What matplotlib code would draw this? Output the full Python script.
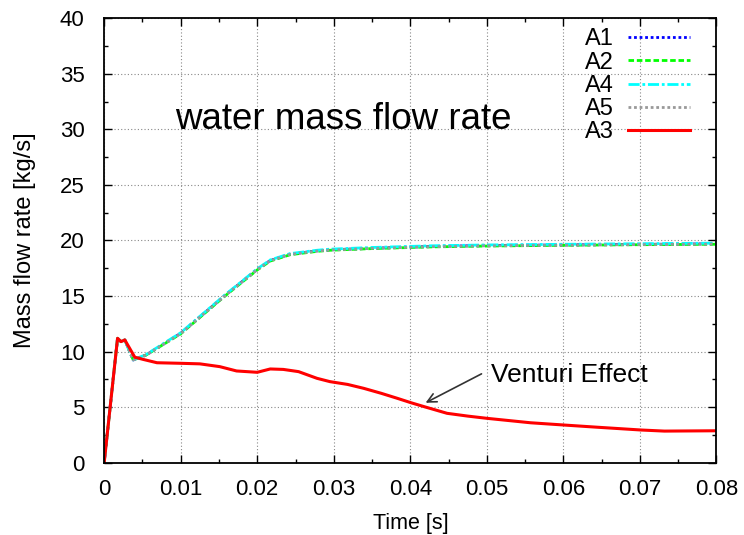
import numpy as np
import matplotlib
matplotlib.use("Agg")
import matplotlib.pyplot as plt
from matplotlib.ticker import MultipleLocator, FuncFormatter

# A3 (red) - drops after the contraction
t_a3 = [0.0, 0.00175, 0.0022, 0.0027, 0.004, 0.0051, 0.0069, 0.01, 0.0125,
        0.0151, 0.0173, 0.02, 0.0217, 0.0234, 0.0254, 0.0278, 0.0295, 0.0318, 0.0339,
        0.0362, 0.0383, 0.0401, 0.0418, 0.0448, 0.0475, 0.05, 0.0557, 0.06, 0.0644,
        0.0701, 0.0732, 0.08]
m_a3 = [0.0, 11.2, 10.9, 11.05, 9.5, 9.3, 9.0, 8.95, 8.9,
        8.65, 8.26, 8.14, 8.44, 8.4, 8.2, 7.6, 7.3, 7.05, 6.7,
        6.25, 5.8, 5.4, 5.05, 4.45, 4.2, 4.0, 3.6, 3.4, 3.2,
        2.95, 2.85, 2.88]

# A1, A2, A4, A5 - nearly identical
t_up = [0.0, 0.00175, 0.0022, 0.0027, 0.0038, 0.0055, 0.01, 0.0156, 0.02,
        0.0217, 0.0243, 0.0278, 0.0295, 0.035, 0.0426, 0.05, 0.0605, 0.07, 0.08]
m_a1 = [0.0, 11.2, 10.9, 11.05, 9.25, 9.7, 11.65, 14.95, 17.4,
        18.2, 18.77, 19.07, 19.16, 19.3, 19.46, 19.55, 19.6, 19.65, 19.7]
m_a2 = [0.0, 11.2, 10.9, 11.05, 9.25, 9.7, 11.6, 14.9, 17.35,
        18.15, 18.72, 19.02, 19.12, 19.27, 19.42, 19.5, 19.57, 19.62, 19.66]
m_a4 = [0.0, 11.2, 10.9, 11.05, 9.25, 9.75, 11.7, 15.0, 17.45,
        18.25, 18.82, 19.12, 19.22, 19.37, 19.52, 19.6, 19.66, 19.71, 19.76]
m_a5 = [0.0, 11.2, 10.9, 11.05, 9.25, 9.7, 11.62, 14.92, 17.38,
        18.18, 18.75, 19.05, 19.14, 19.29, 19.44, 19.52, 19.58, 19.63, 19.68]

plt.rcParams['font.family'] = ['Liberation Sans', 'DejaVu Sans']

fig = plt.figure(figsize=(7.44, 5.35), dpi=100)
ax = fig.add_axes([0.140, 0.135, 0.823, 0.831])

ax.plot(t_up, m_a1, color='#0000ff', linestyle=(0, (1, 1)), lw=2, label='A1')
ax.plot(t_up, m_a2, color='#00ff00', linestyle=(0, (2, 1)), lw=2, label='A2')
ax.plot(t_up, m_a4, color='#00ffff', linestyle=(0, (4, 1, 1, 1)), lw=2, label='A4')
ax.plot(t_up, m_a5, color='#999999', linestyle=(0, (1, 1)), lw=2, label='A5')
ax.plot(t_a3, m_a3, color='#ff0000', linestyle='-', lw=2.2, label='A3')

ax.set_xlim(0, 0.08)
ax.set_ylim(0, 40)
ax.xaxis.set_major_locator(MultipleLocator(0.01))
ax.xaxis.set_minor_locator(MultipleLocator(0.005))
ax.yaxis.set_major_locator(MultipleLocator(5))
ax.yaxis.set_minor_locator(MultipleLocator(2.5))
ax.xaxis.set_major_formatter(FuncFormatter(lambda v, p: '0' if v == 0 else '%g' % round(v, 3)))
ax.tick_params(which='both', direction='in', top=True, right=True, labelsize=16)
ax.tick_params(axis='x', pad=12)
ax.tick_params(axis='y', pad=14)
ax.tick_params(which='major', length=6, width=1)
ax.tick_params(which='minor', length=3, width=1)
ax.grid(True, which='major', color='#888888', linestyle=(0, (1, 2)), lw=0.8)
for s in ax.spines.values():
    s.set_linewidth(1.3)

ax.set_xlabel('Time [s]', fontsize=15.5, labelpad=9)
ax.set_ylabel('Mass flow rate [kg/s]', fontsize=17, labelpad=17)

ax.text(0.0312, 30.9, 'water mass flow rate', fontsize=26.5, ha='center', va='center')
ax.text(0.0505, 7.9, 'Venturi Effect', fontsize=19, va='center', ha='left')
ax.annotate('', xy=(0.042, 5.4), xytext=(0.0493, 8.0),
            arrowprops=dict(arrowstyle='->', color='#333333', lw=1.2,
                            mutation_scale=16, shrinkA=0, shrinkB=0))

ax.legend(loc='upper right', bbox_to_anchor=(0.956, 0.977), frameon=False,
          markerfirst=False, fontsize=17, handlelength=2.6, labelspacing=0.05,
          borderaxespad=0, handletextpad=0.6, borderpad=0)

fig.savefig('out.png', dpi=100)
